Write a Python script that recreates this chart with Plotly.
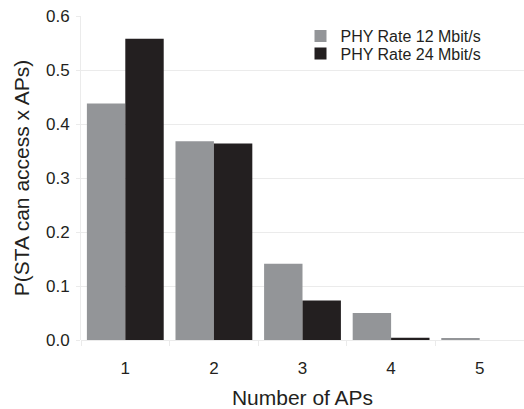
import plotly.graph_objects as go

categories = ["1", "2", "3", "4", "5"]
rate12 = [0.438, 0.368, 0.141, 0.050, 0.003]
rate24 = [0.558, 0.364, 0.073, 0.004, 0.0]
series_names = ["PHY Rate 12 Mbit/s", "PHY Rate 24 Mbit/s"]
y_ticks = [0.0, 0.1, 0.2, 0.3, 0.4, 0.5, 0.6]
y_tick_labels = ["0.0", "0.1", "0.2", "0.3", "0.4", "0.5", "0.6"]

GRAY = "#939598"
BLACK = "#231F20"
GRID = "#ebebeb"
FONT = "Liberation Sans, Arial, Helvetica, sans-serif"

fig = go.Figure()
fig.add_trace(go.Bar(x=categories, y=rate12, name=series_names[0], legend="legend",
                     marker=dict(color=GRAY, line=dict(width=0))))
fig.add_trace(go.Bar(x=categories, y=rate24, name=series_names[1], legend="legend2",
                     marker=dict(color=BLACK, line=dict(width=0))))

leg_common = dict(xanchor="left", yanchor="middle", bgcolor="rgba(0,0,0,0)",
                  font=dict(size=16, color=BLACK), itemwidth=30, borderwidth=0)

fig.update_layout(
    width=524, height=409,
    margin=dict(l=81, r=0, t=15.5, b=68.7),
    paper_bgcolor="white", plot_bgcolor="white",
    barmode="group", bargap=0.133, bargroupgap=0,
    font=dict(family=FONT, color=BLACK),
    showlegend=True,
    legend=dict(x=0.4955, y=0.938, **leg_common),
    legend2=dict(x=0.4955, y=0.884, **leg_common),
    xaxis=dict(
        type="category", range=[-0.5, 4.5], automargin=False,
        ticks="outside", tickson="boundaries", ticklen=5, tickcolor=GRID,
        showgrid=False, showline=False,
        tickfont=dict(size=17, color=BLACK), ticklabelstandoff=16,
        title=dict(text="Number of APs", font=dict(size=21, color=BLACK), standoff=14),
    ),
    yaxis=dict(
        range=[0, 0.6], tickvals=y_ticks, ticktext=y_tick_labels, automargin=False,
        ticks="outside", ticklen=4, tickcolor=GRID,
        showgrid=True, gridcolor=GRID, gridwidth=1,
        zeroline=True, zerolinecolor=GRID, zerolinewidth=1,
        showline=True, linecolor=GRID, linewidth=1,
        tickfont=dict(size=17, color=BLACK), ticklabelstandoff=3,
        title=dict(text="P(STA can access x APs)", font=dict(size=21, color=BLACK), standoff=10),
    ),
)

fig.write_html("out.html", config={"displayModeBar": False},
               post_script="document.body.style.margin='0';document.body.style.padding='0';")
